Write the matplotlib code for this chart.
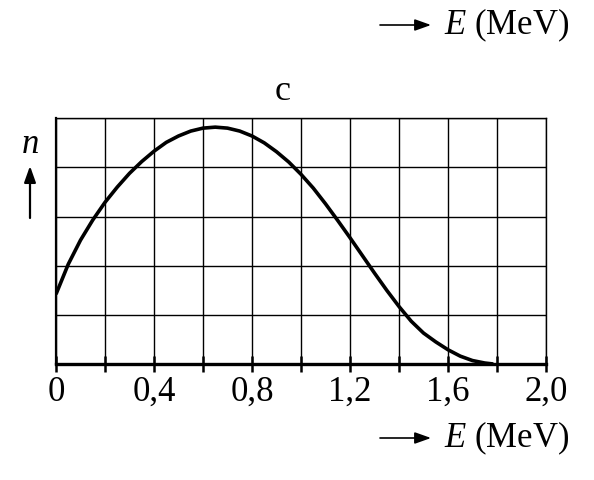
import numpy as np
import matplotlib
matplotlib.use("Agg")
import matplotlib.pyplot as plt

plt.rcParams['font.family'] = 'Liberation Serif'
plt.rcParams['mathtext.fontset'] = 'custom'
plt.rcParams['mathtext.rm'] = 'Liberation Serif'
plt.rcParams['mathtext.it'] = 'Liberation Serif:italic'

# curve (E in MeV, n in grid units)
energy = [0.00, 0.05, 0.10, 0.15, 0.20, 0.25, 0.30, 0.35, 0.40, 0.45, 0.50,
          0.55, 0.60, 0.65, 0.70, 0.75, 0.80, 0.85, 0.90, 0.95, 1.00, 1.05,
          1.10, 1.15, 1.20, 1.25, 1.30, 1.35, 1.40, 1.45, 1.50, 1.55, 1.60,
          1.65, 1.70, 1.75, 1.785]
counts = [1.42, 2.03, 2.52, 2.93, 3.29, 3.60, 3.88, 4.12, 4.33, 4.51, 4.64,
          4.74, 4.80, 4.82, 4.80, 4.74, 4.64, 4.50, 4.32, 4.11, 3.86, 3.58,
          3.26, 2.92, 2.57, 2.21, 1.85, 1.50, 1.17, 0.87, 0.63, 0.45, 0.29,
          0.16, 0.07, 0.02, 0.00]

x_ticks = [0.0, 0.2, 0.4, 0.6, 0.8, 1.0, 1.2, 1.4, 1.6, 1.8, 2.0]
x_labels = ['0', '', '0,4', '', '0,8', '', '1,2', '', '1,6', '', '2,0']
y_ticks = [0, 1, 2, 3, 4, 5]

W, H = 594, 480
fig = plt.figure(figsize=(W / 100, H / 100), dpi=100)
ax = fig.add_axes([56 / W, 1 - 364 / H, (546 - 56) / W, (364 - 118.3) / H])

ax.plot(energy, counts, color='black', lw=2.6, solid_capstyle='butt',
        solid_joinstyle='round', zorder=3)

ax.set_xlim(0, 2.0)
ax.set_ylim(0, 5)
ax.set_xticks(x_ticks)
ax.set_xticklabels(x_labels)
ax.set_yticks(y_ticks)
ax.set_yticklabels([])
ax.grid(True, color='black', lw=1.0)
ax.tick_params(axis='x', direction='inout', length=11, width=1.8,
               labelsize=25, pad=3)
ax.tick_params(axis='y', length=0)

for side in ['top', 'right']:
    ax.spines[side].set_linewidth(1.0)
ax.spines['left'].set_linewidth(1.6)
ax.spines['bottom'].set_linewidth(2.4)

# title "c"
fig.text(283 / W, 1 - 100 / H, 'c', fontsize=26, ha='center', va='baseline')

# axis label with arrow, drawn twice like the original
for yy in [25, 438]:
    fig.text(444 / W, 1 - yy / H, r'$E$ (MeV)', fontsize=25,
             ha='left', va='center')
    fig.add_artist(matplotlib.patches.FancyArrowPatch(
        (380 / W, 1 - yy / H), (431 / W, 1 - yy / H),
        transform=fig.transFigure, arrowstyle='-|>,head_length=0.7,head_width=0.25',
        mutation_scale=14, color='black', lw=1.2, shrinkA=0, shrinkB=0))

# n with up arrow
fig.text(30 / W, 1 - 153 / H, r'$n$', fontsize=25, ha='center', va='baseline')
fig.add_artist(matplotlib.patches.FancyArrowPatch(
    (30 / W, 1 - 218 / H), (30 / W, 1 - 166 / H),
    transform=fig.transFigure, arrowstyle='-|>,head_length=0.7,head_width=0.25',
    mutation_scale=14, color='black', lw=1.6, shrinkA=0, shrinkB=0))

fig.savefig('out.png', dpi=100)
